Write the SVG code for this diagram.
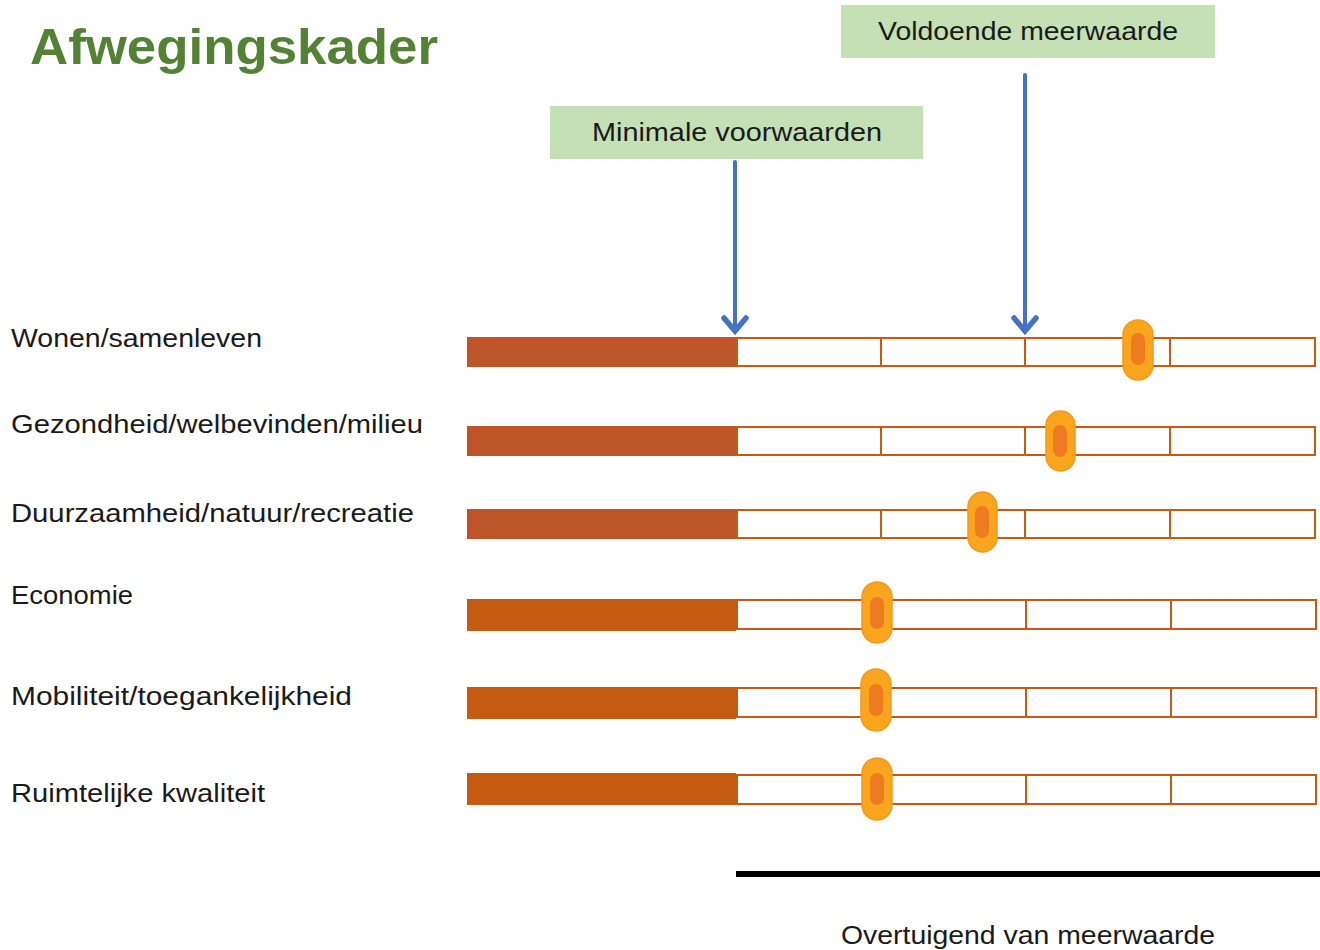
<svg xmlns="http://www.w3.org/2000/svg" width="1320" height="950" viewBox="0 0 1320 950">
<style>
.lbl{font-family:"Liberation Sans","Open Sans",sans-serif;font-size:25px;fill:#1a1a1a}
.box{fill:#C5E0B4}
.boxt{font-family:"Liberation Sans","Open Sans",sans-serif;font-size:25px;fill:#1a1a1a;text-anchor:middle}
.fill1{fill:#BC5628}
.fill2{fill:#C55A11}
.seg{fill:#fff;stroke:#C55A11;stroke-width:2}
.knob{fill:#F9A61E;stroke:#F29A1E;stroke-width:1.5}
.core{fill:#EE7B22}
.arr{fill:none;stroke:#4472C4;stroke-width:4;stroke-linecap:round;stroke-linejoin:round}
.head{fill:none;stroke:#4472C4;stroke-width:5.5;stroke-linecap:round;stroke-linejoin:miter}
</style>
<rect width="1320" height="950" fill="#fff"/>
<text id="title" x="30" y="64" font-family="'Liberation Sans','Open Sans',sans-serif" font-weight="bold" font-size="50" fill="#548235" textLength="408" lengthAdjust="spacingAndGlyphs">Afwegingskader</text>

<g id="label-voldoende">
<rect class="box" x="841" y="5" width="374" height="53"/>
<text class="boxt" x="1028" y="40" textLength="300" lengthAdjust="spacingAndGlyphs">Voldoende meerwaarde</text>
</g>
<g id="label-minimale">
<rect class="box" x="550" y="106" width="373" height="53"/>
<text class="boxt" x="737" y="141" textLength="290" lengthAdjust="spacingAndGlyphs">Minimale voorwaarden</text>
</g>

<g id="connectors">
<path class="arr" d="M735 162 V330"/>
<path class="head" d="M724 318 L735 331 L746 318"/>
<path class="arr" d="M1025 75 V330"/>
<path class="head" d="M1014 318 L1025 331 L1036 318"/>
</g>

<g id="row-wonen">
<text class="lbl" x="11" y="347" textLength="251" lengthAdjust="spacingAndGlyphs">Wonen/samenleven</text>
<rect class="fill1" x="467" y="337" width="269" height="30"/>
<rect class="seg" x="737" y="338" width="144" height="28"/>
<rect class="seg" x="881" y="338" width="144" height="28"/>
<rect class="seg" x="1025" y="338" width="145" height="28"/>
<rect class="seg" x="1170" y="338" width="145" height="28"/>
<rect class="knob" x="1123" y="320" width="30" height="60" rx="15"/>
<rect class="core" x="1131" y="333" width="14" height="32" rx="7"/>
</g>

<g id="row-gezondheid">
<text class="lbl" x="11" y="433" textLength="412" lengthAdjust="spacingAndGlyphs">Gezondheid/welbevinden/milieu</text>
<rect class="fill1" x="467" y="426" width="269" height="30"/>
<rect class="seg" x="737" y="427" width="144" height="28"/>
<rect class="seg" x="881" y="427" width="144" height="28"/>
<rect class="seg" x="1025" y="427" width="145" height="28"/>
<rect class="seg" x="1170" y="427" width="145" height="28"/>
<rect class="knob" x="1046" y="411" width="29" height="60" rx="14.5"/>
<rect class="core" x="1053" y="425" width="14" height="32" rx="7"/>
</g>

<g id="row-duurzaamheid">
<text class="lbl" x="11" y="522" textLength="403" lengthAdjust="spacingAndGlyphs">Duurzaamheid/natuur/recreatie</text>
<rect class="fill1" x="467" y="509" width="269" height="30"/>
<rect class="seg" x="737" y="510" width="144" height="28"/>
<rect class="seg" x="881" y="510" width="144" height="28"/>
<rect class="seg" x="1025" y="510" width="145" height="28"/>
<rect class="seg" x="1170" y="510" width="145" height="28"/>
<rect class="knob" x="968" y="492" width="29" height="60" rx="14.5"/>
<rect class="core" x="975" y="506" width="14" height="32" rx="7"/>
</g>

<g id="row-economie">
<text class="lbl" x="11" y="604" textLength="122" lengthAdjust="spacingAndGlyphs">Economie</text>
<rect class="fill2" x="467" y="599" width="269" height="32"/>
<rect class="seg" x="737" y="600" width="144" height="29"/>
<rect class="seg" x="881" y="600" width="145" height="29"/>
<rect class="seg" x="1026" y="600" width="145" height="29"/>
<rect class="seg" x="1171" y="600" width="145" height="29"/>
<rect class="knob" x="862" y="582" width="30" height="61" rx="15"/>
<rect class="core" x="870" y="597" width="14" height="32" rx="7"/>
</g>

<g id="row-mobiliteit">
<text class="lbl" x="11" y="705" textLength="341" lengthAdjust="spacingAndGlyphs">Mobiliteit/toegankelijkheid</text>
<rect class="fill2" x="467" y="687" width="269" height="32"/>
<rect class="seg" x="737" y="688" width="144" height="29"/>
<rect class="seg" x="881" y="688" width="145" height="29"/>
<rect class="seg" x="1026" y="688" width="145" height="29"/>
<rect class="seg" x="1171" y="688" width="145" height="29"/>
<rect class="knob" x="861" y="669" width="30" height="62" rx="15"/>
<rect class="core" x="869" y="684" width="14" height="32" rx="7"/>
</g>

<g id="row-ruimtelijke">
<text class="lbl" x="11" y="802" textLength="254" lengthAdjust="spacingAndGlyphs">Ruimtelijke kwaliteit</text>
<rect class="fill2" x="467" y="773" width="269" height="32"/>
<rect class="seg" x="737" y="775" width="144" height="29"/>
<rect class="seg" x="881" y="775" width="145" height="29"/>
<rect class="seg" x="1026" y="775" width="145" height="29"/>
<rect class="seg" x="1171" y="775" width="145" height="29"/>
<rect class="knob" x="862" y="758" width="30" height="62" rx="15"/>
<rect class="core" x="870" y="773" width="14" height="32" rx="7"/>
</g>

<g id="axis">
<rect x="736" y="871" width="584" height="6" fill="#000"/>
<text class="boxt" x="1028" y="944" textLength="374" lengthAdjust="spacingAndGlyphs">Overtuigend van meerwaarde</text>
</g>
</svg>
